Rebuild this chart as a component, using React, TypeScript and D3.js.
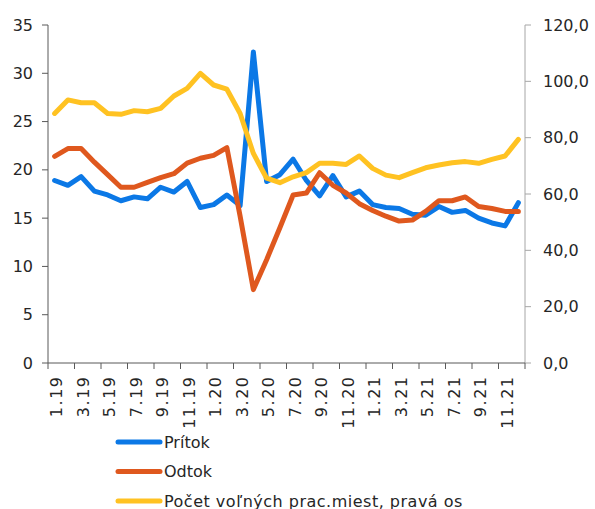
import { useRef, useEffect, RefObject } from 'react';
import * as d3 from 'd3';

const months: string[] = [
  '1.19', '2.19', '3.19', '4.19', '5.19', '6.19', '7.19', '8.19', '9.19', '10.19', '11.19', '12.19',
  '1.20', '2.20', '3.20', '4.20', '5.20', '6.20', '7.20', '8.20', '9.20', '10.20', '11.20', '12.20',
  '1.21', '2.21', '3.21', '4.21', '5.21', '6.21', '7.21', '8.21', '9.21', '10.21', '11.21', '12.21',
];

const pritok: number[] = [
  18.9, 18.4, 19.3, 17.8, 17.4, 16.8, 17.2, 17.0, 18.2, 17.7, 18.8, 16.1,
  16.4, 17.4, 16.3, 32.2, 18.8, 19.5, 21.1, 18.9, 17.3, 19.4, 17.2, 17.8,
  16.4, 16.1, 16.0, 15.4, 15.3, 16.2, 15.6, 15.8, 15.0, 14.5, 14.2, 16.6,
];

const odtok: number[] = [
  21.4, 22.2, 22.2, 20.8, 19.5, 18.2, 18.2, 18.7, 19.2, 19.6, 20.7, 21.2,
  21.5, 22.3, 15.2, 7.6, 10.7, 14.0, 17.4, 17.6, 19.7, 18.4, 17.6, 16.5,
  15.8, 15.2, 14.7, 14.8, 15.7, 16.8, 16.8, 17.2, 16.2, 16.0, 15.7, 15.7,
];

const volneMiesta: number[] = [
  88.6, 93.4, 92.4, 92.4, 88.6, 88.3, 89.6, 89.2, 90.4, 94.8, 97.5, 102.8,
  98.7, 97.2, 88.6, 74.4, 65.6, 64.0, 66.1, 67.6, 70.9, 70.9, 70.5, 73.5,
  69.1, 66.7, 65.8, 67.6, 69.3, 70.3, 71.1, 71.5, 70.9, 72.3, 73.5, 79.4,
];

const leftTicks: number[] = [0, 5, 10, 15, 20, 25, 30, 35];
const rightTicks: number[] = [0, 20, 40, 60, 80, 100, 120];

const seriesNames: string[] = ['Prítok', 'Odtok', 'Počet voľných prac.miest, pravá os'];
const colors: string[] = ['#0B78E6', '#DF581E', '#FFC222'];

const Chart = () => {
  const svgRef: RefObject<SVGSVGElement> = useRef(null);

  useEffect(() => {
    const width = 595;
    const height = 509;
    const left = 48;
    const right = 525;
    const top = 25;
    const bottom = 363;
    const font = 'DejaVu Sans, Verdana, sans-serif';
    const textColor = '#262626';

    const svg = d3.select(svgRef.current)
      .attr('width', width)
      .attr('height', height)
      .style('font-family', font);
    svg.selectAll('*').remove();

    const x = d3.scaleBand<string>().domain(months).range([left, right]);
    const cx = (i: number) => (x(months[i]) as number) + x.bandwidth() / 2;
    const yL = d3.scaleLinear().domain([0, 35]).range([bottom, top]);
    const yR = d3.scaleLinear().domain([0, 120]).range([bottom, top]);

    // left axis
    const gl = svg.append('g');
    gl.append('line')
      .attr('x1', left).attr('x2', left).attr('y1', top).attr('y2', bottom)
      .attr('stroke', '#595959').attr('stroke-width', 1);
    gl.selectAll('line.t').data(leftTicks).join('line')
      .attr('class', 't')
      .attr('x1', left - 6).attr('x2', left)
      .attr('y1', (d) => yL(d)).attr('y2', (d) => yL(d))
      .attr('stroke', '#595959');
    gl.selectAll('text').data(leftTicks).join('text')
      .attr('x', left - 15).attr('y', (d) => yL(d))
      .attr('dy', '0.35em').attr('text-anchor', 'end')
      .attr('font-size', 16).attr('fill', textColor)
      .text((d) => String(d));

    // right axis
    const gr = svg.append('g');
    gr.append('line')
      .attr('x1', right).attr('x2', right).attr('y1', top).attr('y2', bottom)
      .attr('stroke', '#a6a6a6').attr('stroke-width', 1);
    gr.selectAll('line.t').data(rightTicks).join('line')
      .attr('class', 't')
      .attr('x1', right).attr('x2', right + 6)
      .attr('y1', (d) => yR(d)).attr('y2', (d) => yR(d))
      .attr('stroke', '#a6a6a6');
    gr.selectAll('text').data(rightTicks).join('text')
      .attr('x', right + 18).attr('y', (d) => yR(d))
      .attr('dy', '0.35em').attr('text-anchor', 'start')
      .attr('font-size', 16).attr('fill', textColor)
      .text((d) => d3.format('.1f')(d).replace('.', ','));

    // bottom axis
    const gb = svg.append('g');
    gb.append('line')
      .attr('x1', left).attr('x2', right).attr('y1', bottom).attr('y2', bottom)
      .attr('stroke', '#595959');
    const tickIdx = d3.range(0, months.length + 1, 2);
    gb.selectAll('line.t').data(tickIdx).join('line')
      .attr('class', 't')
      .attr('x1', (i) => left + i * x.bandwidth())
      .attr('x2', (i) => left + i * x.bandwidth())
      .attr('y1', bottom).attr('y2', bottom + 6)
      .attr('stroke', '#595959');
    const labelIdx = d3.range(0, months.length, 2);
    gb.selectAll('text').data(labelIdx).join('text')
      .attr('transform', (i) => `translate(${cx(i) + 2},${375.5}) rotate(-90)`)
      .attr('dy', '0.35em').attr('text-anchor', 'end')
      .attr('font-size', 16).attr('letter-spacing', 1.5).attr('fill', textColor)
      .text((i) => months[i]);

    // series
    const lineL = d3.line<number>().x((_, i) => cx(i)).y((d) => yL(d));
    const lineR = d3.line<number>().x((_, i) => cx(i)).y((d) => yR(d));
    const paths = [lineL(pritok), lineL(odtok), lineR(volneMiesta)];
    svg.append('g').selectAll('path').data(paths).join('path')
      .attr('d', (d) => d as string)
      .attr('fill', 'none')
      .attr('stroke', (_, i) => colors[i])
      .attr('stroke-width', 5)
      .attr('stroke-linejoin', 'round')
      .attr('stroke-linecap', 'round');

    // legend
    const lg = svg.append('g').selectAll('g').data(seriesNames).join('g')
      .attr('transform', (_, i) => `translate(0,${442 + i * 29.5})`);
    lg.append('line')
      .attr('x1', 118).attr('x2', 160).attr('y1', 0).attr('y2', 0)
      .attr('stroke', (_, i) => colors[i])
      .attr('stroke-width', 5).attr('stroke-linecap', 'round');
    lg.append('text')
      .attr('x', 164).attr('y', 0).attr('dy', '0.35em')
      .attr('font-size', 16).attr('fill', textColor)
      .attr('letter-spacing', (_, i) => (i === 2 ? 0.5 : 0))
      .text((d) => d);
  }, []);

  return <svg ref={svgRef} style={{ position: 'absolute', left: 0, top: 0 }}></svg>;
};

export default function App() {
  return <Chart />;
}
